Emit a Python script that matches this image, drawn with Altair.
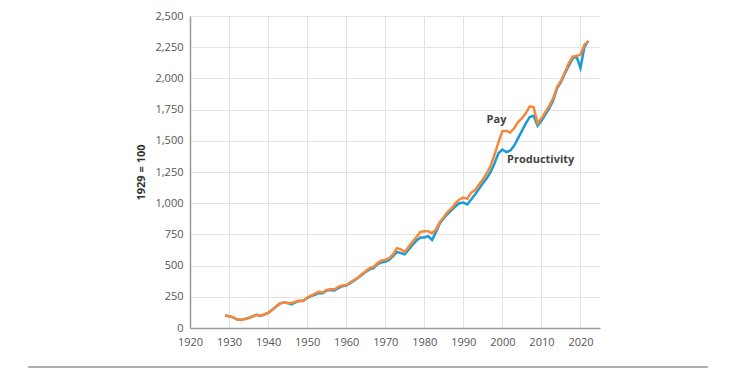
import altair as alt
import pandas as pd

years = list(range(1929, 2023))
productivity = [100, 95, 85, 70, 65, 72, 80, 92, 105, 97,
                108, 120, 145, 170, 195, 205, 200, 190, 205, 215,
                220, 240, 255, 265, 280, 278, 300, 305, 300, 320,
                335, 340, 360, 380, 400, 425, 450, 470, 480, 510,
                525, 530, 545, 575, 610, 600, 590, 630, 665, 700,
                725, 725, 735, 705, 770, 840, 880, 915, 945, 975,
                1000, 1005, 990, 1030, 1070, 1115, 1160, 1200, 1250, 1320,
                1400, 1430, 1410, 1420, 1460, 1520, 1580, 1640, 1690, 1700,
                1620, 1660, 1710, 1760, 1820, 1920, 1970, 2040, 2100, 2160,
                2175, 2082, 2250, 2300]
pay = [100, 95, 85, 70, 65, 72, 80, 92, 105, 97,
       108, 120, 145, 170, 195, 205, 200, 200, 210, 220,
       215, 245, 260, 275, 290, 285, 305, 310, 310, 330,
       340, 345, 365, 385, 405, 430, 455, 480, 490, 520,
       540, 545, 560, 590, 640, 630, 610, 650, 690, 730,
       770, 775, 775, 760, 790, 850, 890, 930, 960, 1000,
       1030, 1045, 1035, 1085, 1105, 1150, 1190, 1240, 1300, 1390,
       1490, 1575, 1580, 1565, 1600, 1650, 1680, 1720, 1775, 1770,
       1640, 1680, 1730, 1780, 1840, 1930, 1980, 2050, 2120, 2175,
       2180, 2190, 2270, 2295]

label_text = ["Pay", "Productivity"]
label_year = [1998.5, 2009.8]
label_value = [1668, 1345]

x_ticks = list(range(1920, 2021, 10))
y_ticks = list(range(0, 2501, 250))

prod_df = pd.DataFrame({"year": years, "value": productivity})
pay_df = pd.DataFrame({"year": years, "value": pay})
labels = pd.DataFrame({"text": label_text, "year": label_year, "value": label_value})

FONT = "Open Sans"

x = alt.X("year:Q", scale=alt.Scale(domain=[1920, 2025], nice=False, zero=False),
          axis=alt.Axis(values=x_ticks, format="d", title=None, ticks=False,
                        labelPadding=8, labelFontSize=11, labelColor="#555555",
                        labelFont=FONT, labelFlush=False, labelOverlap=False,
                        grid=True, gridColor="#e3e3e3",
                        domainColor="#9a9a9a", domainWidth=1.5))
y = alt.Y("value:Q", scale=alt.Scale(domain=[0, 2500], nice=False),
          axis=alt.Axis(values=y_ticks, format=",d", title="1929 = 100", ticks=False,
                        labelPadding=7, labelFontSize=11, labelColor="#555555",
                        labelFont=FONT, labelFlush=False, labelOverlap=False,
                        titleFont=FONT, titleFontSize=11,
                        titleFontWeight="bold", titleColor="#333333", titlePadding=8,
                        grid=True, gridColor="#e3e3e3",
                        domainColor="#9a9a9a", domainWidth=1.5))

prod_line = alt.Chart(prod_df).mark_line(strokeWidth=2.5, color="#1b9ad6").encode(x=x, y=y)
pay_line = alt.Chart(pay_df).mark_line(strokeWidth=2.5, color="#f5883a").encode(x=x, y=y)

text = alt.Chart(labels).mark_text(font=FONT, fontSize=11, fontWeight="bold",
                                   color="#444444").encode(
    x=x, y=y, text="text:N")

rule = alt.Chart(pd.DataFrame({"a": [0]})).mark_rule(color="#b0b0b0", strokeWidth=2).encode(
    x=alt.value(-162), x2=alt.value(518), y=alt.value(351))

chart = alt.layer(prod_line, pay_line, text, rule).properties(
    width=410, height=312,
    autosize=alt.AutoSizeParams(type="none"),
    padding={"left": 182, "top": 8, "right": 142, "bottom": 50},
).configure_view(stroke=None)

chart.save("out.html", embed_options={"renderer": "svg", "actions": False})
